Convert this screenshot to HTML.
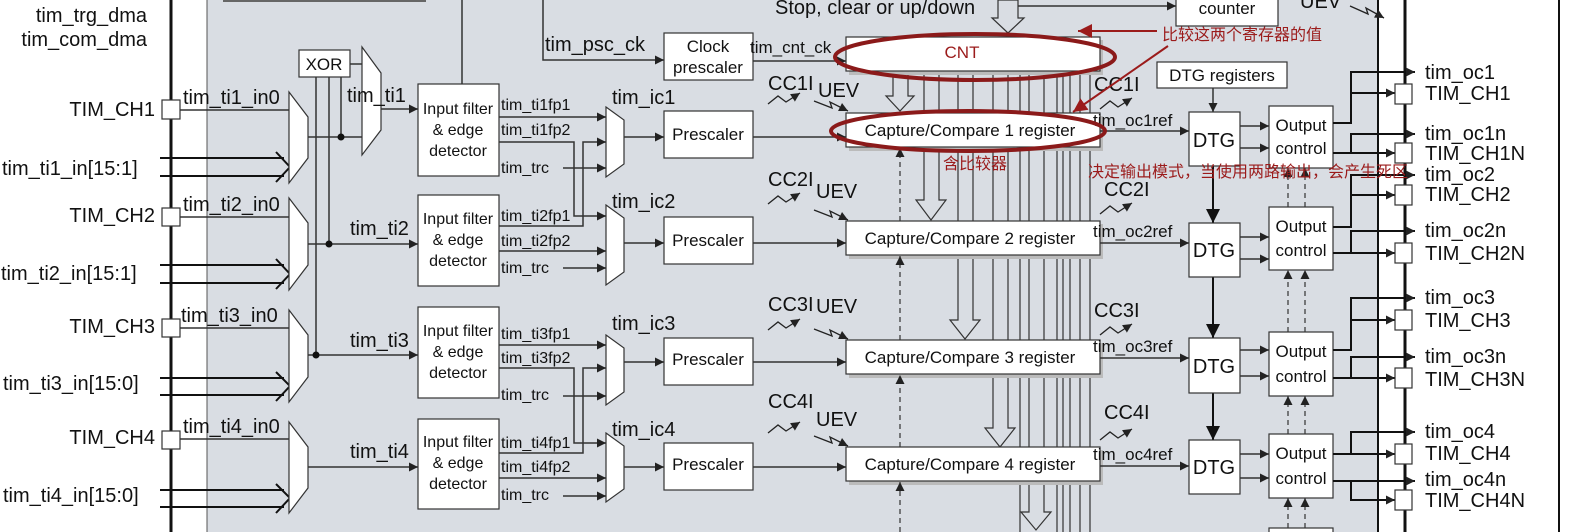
<!DOCTYPE html>
<html><head><meta charset="utf-8"><style>
html,body{margin:0;padding:0;background:#fff;}
svg{display:block;}
text{font-family:"Liberation Sans","Noto Sans CJK SC",sans-serif;fill:#111;}
.t20{font-size:20px;}
.t17{font-size:17px;}
.t16{font-size:16px;}
.red{fill:#9b1b1b;}
.zh{font-family:"Liberation Sans","Noto Sans CJK SC",sans-serif;font-size:16px;fill:#9b1b1b;}
</style></head><body>
<svg width="1583" height="532" viewBox="0 0 1583 532" xmlns="http://www.w3.org/2000/svg">
<defs>
<marker id="a" viewBox="0 0 10 10" refX="10" refY="5" markerWidth="9" markerHeight="9" markerUnits="userSpaceOnUse" orient="auto"><path d="M0,0 L10,5 L0,10 z" fill="#222"/></marker>
<marker id="ab" viewBox="0 0 10 10" refX="10" refY="5" markerWidth="14" markerHeight="14" markerUnits="userSpaceOnUse" orient="auto"><path d="M0,0 L10,5 L0,10 z" fill="#111"/></marker>
<marker id="ar" viewBox="0 0 10 10" refX="10" refY="5" markerWidth="14" markerHeight="14" markerUnits="userSpaceOnUse" orient="auto"><path d="M0,0 L10,5 L0,10 z" fill="#9b1b1b"/></marker>
</defs>
<rect x="207" y="0" width="1171" height="532" fill="#d9dde3"/>
<line x1="207" y1="0" x2="207" y2="532" stroke="#555" stroke-width="1"/>
<line x1="171" y1="0" x2="171" y2="532" stroke="#111" stroke-width="3"/>
<line x1="1378" y1="0" x2="1378" y2="532" stroke="#111" stroke-width="2"/>
<line x1="1405" y1="0" x2="1405" y2="532" stroke="#111" stroke-width="3"/>
<line x1="1559" y1="0" x2="1559" y2="532" stroke="#111" stroke-width="2"/>

<text x="147" y="22" class="t20" text-anchor="end">tim_trg_dma</text>
<text x="147" y="46" class="t20" text-anchor="end">tim_com_dma</text>

<line x1="223" y1="1" x2="426" y2="1" stroke="#666" stroke-width="2"/>
<line x1="462" y1="0" x2="462" y2="84" stroke="#333" stroke-width="1.5"/>
<polyline points="543,0 543,60 664,60" fill="none" stroke="#333" stroke-width="1.5" marker-end="url(#a)"/>
<text x="545" y="51" class="t20">tim_psc_ck</text>
<rect x="664" y="33" width="89" height="47" fill="#fff" stroke="#333" stroke-width="1.2"/>
<text x="708" y="52" class="t17" text-anchor="middle">Clock</text>
<text x="708" y="73" class="t17" text-anchor="middle">prescaler</text>
<line x1="753" y1="61" x2="846" y2="61" stroke="#333" stroke-width="1.5" marker-end="url(#a)"/>
<text x="750" y="53" class="t17">tim_cnt_ck</text>
<text x="775" y="14" class="t20">Stop, clear or up/down</text>
<polygon points="998,0 1018,0 1018,18 1024,18 1008,33 992,18 998,18" fill="#d9dde3" stroke="#333" stroke-width="1.2"/>
<line x1="1018" y1="6" x2="1176" y2="6" stroke="#333" stroke-width="1.5" marker-end="url(#a)"/>
<rect x="1176" y="-2" width="102" height="28" fill="#fff" stroke="#333" stroke-width="1.2"/>
<text x="1227" y="14" class="t17" text-anchor="middle">counter</text>
<text x="1300" y="8" class="t20">UEV</text>
<polyline points="1350,6 1368,14 1366,8 1384,18" fill="none" stroke="#222" stroke-width="1.3" marker-end="url(#a)"/>

<g stroke="#333" stroke-width="1.2">
<line x1="1020" y1="71" x2="1020" y2="532"/>
<line x1="1057" y1="71" x2="1057" y2="532"/>
<line x1="1063" y1="71" x2="1063" y2="532"/>
<line x1="1070" y1="71" x2="1070" y2="532"/>
<line x1="1080" y1="71" x2="1080" y2="532"/>
<line x1="1090" y1="71" x2="1090" y2="532"/>
</g>
<g fill="#d9dde3" stroke="#333" stroke-width="1.2">
<polygon points="893,71 908,71 908,96 914,96 900,111 886,96 893,96"/>
<polygon points="924,71 939,71 939,200 946,200 931,220 916,200 924,200"/>
<polygon points="958,71 973,71 973,320 980,320 965,339 950,320 958,320"/>
<polygon points="993,71 1008,71 1008,428 1015,428 1000,447 985,428 993,428"/>
<polygon points="1029,71 1044,71 1044,512 1051,512 1036,530 1021,512 1029,512"/>
</g>

<rect x="849" y="40" width="254" height="35" fill="#bbb"/>
<rect x="846" y="37" width="254" height="34" fill="#fff" stroke="#333" stroke-width="1.2"/>
<text x="962" y="58" class="t17 red" text-anchor="middle">CNT</text>

<g>
<rect x="849" y="116" width="254" height="35" fill="#bbb"/>
<rect x="846" y="113" width="254" height="34" fill="#fff" stroke="#333" stroke-width="1.2"/>
<text x="970" y="136" class="t17" text-anchor="middle">Capture/Compare 1 register</text>
<rect x="849" y="224" width="254" height="35" fill="#bbb"/>
<rect x="846" y="221" width="254" height="34" fill="#fff" stroke="#333" stroke-width="1.2"/>
<text x="970" y="244" class="t17" text-anchor="middle">Capture/Compare 2 register</text>
<rect x="849" y="343" width="254" height="35" fill="#bbb"/>
<rect x="846" y="340" width="254" height="34" fill="#fff" stroke="#333" stroke-width="1.2"/>
<text x="970" y="363" class="t17" text-anchor="middle">Capture/Compare 3 register</text>
<rect x="849" y="450" width="254" height="35" fill="#bbb"/>
<rect x="846" y="447" width="254" height="34" fill="#fff" stroke="#333" stroke-width="1.2"/>
<text x="970" y="470" class="t17" text-anchor="middle">Capture/Compare 4 register</text>
</g>
<g stroke="#333" stroke-width="1.2" stroke-dasharray="5,4" fill="none">
<line x1="900" y1="221" x2="900" y2="148" marker-end="url(#a)"/>
<line x1="900" y1="340" x2="900" y2="256" marker-end="url(#a)"/>
<line x1="900" y1="447" x2="900" y2="375" marker-end="url(#a)"/>
<line x1="900" y1="532" x2="900" y2="482" marker-end="url(#a)"/>
</g>

<g stroke="#333" stroke-width="1.5" fill="none">
<line x1="350" y1="64" x2="362" y2="64"/>
<line x1="316" y1="77" x2="316" y2="355"/>
<line x1="329" y1="77" x2="329" y2="244"/>
<line x1="341" y1="77" x2="341" y2="137"/>
<line x1="308" y1="137" x2="362" y2="137"/>
<line x1="381" y1="109" x2="418" y2="109" marker-end="url(#a)"/>
<line x1="308" y1="244" x2="418" y2="244" marker-end="url(#a)"/>
<line x1="308" y1="355" x2="418" y2="355" marker-end="url(#a)"/>
<line x1="308" y1="467" x2="418" y2="467" marker-end="url(#a)"/>
<line x1="180" y1="110" x2="289" y2="110"/>
<line x1="180" y1="217" x2="289" y2="217"/>
<line x1="180" y1="328" x2="289" y2="328"/>
<line x1="180" y1="439" x2="289" y2="439"/>
</g>
<g fill="#111" stroke="none">
<circle cx="341" cy="137" r="3.5"/><circle cx="329" cy="244" r="3.5"/><circle cx="316" cy="355" r="3.5"/>
</g>
<rect x="299" y="50" width="51" height="27" fill="#fff" stroke="#333" stroke-width="1.2"/>
<text x="324" y="70" class="t17" text-anchor="middle">XOR</text>
<polygon points="362,47 381,73 381,130 362,155" fill="#fff" stroke="#333" stroke-width="1.2"/>
<g stroke="#111" stroke-width="2" fill="none">
<line x1="160" y1="158" x2="284" y2="158"/><line x1="160" y1="176" x2="284" y2="176"/>
<polyline points="276,152 290,167 276,182"/>
<line x1="160" y1="265" x2="284" y2="265"/><line x1="160" y1="283" x2="284" y2="283"/>
<polyline points="276,259 290,274 276,289"/>
<line x1="160" y1="378" x2="284" y2="378"/><line x1="160" y1="395" x2="284" y2="395"/>
<polyline points="276,372 290,386 276,401"/>
<line x1="160" y1="490" x2="284" y2="490"/><line x1="160" y1="507" x2="284" y2="507"/>
<polyline points="276,484 290,498 276,513"/>
</g>
<g fill="#fff" stroke="#333" stroke-width="1.2">
<polygon points="289,92 308,117 308,158 289,183"/>
<polygon points="289,198 308,223 308,265 289,290"/>
<polygon points="289,310 308,335 308,377 289,402"/>
<polygon points="289,422 308,447 308,488 289,513"/>
<rect x="162" y="100" width="18" height="19"/>
<rect x="162" y="208" width="18" height="18"/>
<rect x="162" y="319" width="18" height="18"/>
<rect x="162" y="431" width="18" height="18"/>
</g>
<text x="155" y="116" class="t20" text-anchor="end">TIM_CH1</text>
<text x="155" y="222" class="t20" text-anchor="end">TIM_CH2</text>
<text x="155" y="333" class="t20" text-anchor="end">TIM_CH3</text>
<text x="155" y="444" class="t20" text-anchor="end">TIM_CH4</text>
<text x="183" y="104" class="t20">tim_ti1_in0</text>
<text x="183" y="211" class="t20">tim_ti2_in0</text>
<text x="181" y="322" class="t20">tim_ti3_in0</text>
<text x="183" y="433" class="t20">tim_ti4_in0</text>
<text x="2" y="175" class="t20">tim_ti1_in[15:1]</text>
<text x="1" y="280" class="t20">tim_ti2_in[15:1]</text>
<text x="3" y="390" class="t20">tim_ti3_in[15:0]</text>
<text x="3" y="502" class="t20">tim_ti4_in[15:0]</text>
<text x="347" y="102" class="t20">tim_ti1</text>
<text x="350" y="235" class="t20">tim_ti2</text>
<text x="350" y="347" class="t20">tim_ti3</text>
<text x="350" y="458" class="t20">tim_ti4</text>

<g fill="#fff" stroke="#333" stroke-width="1.2">
<rect x="418" y="84" width="81" height="92"/>
<rect x="418" y="195" width="81" height="91"/>
<rect x="418" y="307" width="81" height="91"/>
<rect x="418" y="419" width="81" height="90"/>
</g>
<g text-anchor="middle">
<text x="458" y="114" class="t16">Input filter</text><text x="458" y="135" class="t16">&amp; edge</text><text x="458" y="156" class="t16">detector</text>
<text x="458" y="224" class="t16">Input filter</text><text x="458" y="245" class="t16">&amp; edge</text><text x="458" y="266" class="t16">detector</text>
<text x="458" y="336" class="t16">Input filter</text><text x="458" y="357" class="t16">&amp; edge</text><text x="458" y="378" class="t16">detector</text>
<text x="458" y="447" class="t16">Input filter</text><text x="458" y="468" class="t16">&amp; edge</text><text x="458" y="489" class="t16">detector</text>
</g>
<g stroke="#333" stroke-width="1.5" fill="none">
<line x1="499" y1="117" x2="606" y2="117" marker-end="url(#a)"/>
<polyline points="499,142 574,142 574,216 606,216" marker-end="url(#a)"/>
<line x1="563" y1="168" x2="606" y2="168" marker-end="url(#a)"/>
<polyline points="499,226 583,226 583,142 606,142" marker-end="url(#a)"/>
<line x1="499" y1="251" x2="606" y2="251" marker-end="url(#a)"/>
<line x1="563" y1="268" x2="606" y2="268" marker-end="url(#a)"/>
<line x1="499" y1="345" x2="606" y2="345" marker-end="url(#a)"/>
<polyline points="499,368 574,368 574,443 606,443" marker-end="url(#a)"/>
<line x1="563" y1="396" x2="606" y2="396" marker-end="url(#a)"/>
<polyline points="499,453 583,453 583,368 606,368" marker-end="url(#a)"/>
<line x1="499" y1="478" x2="606" y2="478" marker-end="url(#a)"/>
<line x1="563" y1="496" x2="606" y2="496" marker-end="url(#a)"/>
</g>
<g>
<text x="501" y="110" class="t16">tim_ti1fp1</text><text x="501" y="135" class="t16">tim_ti1fp2</text><text x="501" y="173" class="t16">tim_trc</text>
<text x="501" y="221" class="t16">tim_ti2fp1</text><text x="501" y="246" class="t16">tim_ti2fp2</text><text x="501" y="273" class="t16">tim_trc</text>
<text x="501" y="339" class="t16">tim_ti3fp1</text><text x="501" y="363" class="t16">tim_ti3fp2</text><text x="501" y="400" class="t16">tim_trc</text>
<text x="501" y="448" class="t16">tim_ti4fp1</text><text x="501" y="472" class="t16">tim_ti4fp2</text><text x="501" y="500" class="t16">tim_trc</text>
</g>
<g fill="#fff" stroke="#333" stroke-width="1.2">
<polygon points="606,107 624,120 624,164 606,177"/>
<polygon points="606,205 624,218 624,272 606,285"/>
<polygon points="606,335 624,348 624,392 606,405"/>
<polygon points="606,433 624,446 624,489 606,502"/>
</g>
<text x="612" y="104" class="t20">tim_ic1</text>
<text x="612" y="208" class="t20">tim_ic2</text>
<text x="612" y="330" class="t20">tim_ic3</text>
<text x="612" y="436" class="t20">tim_ic4</text>
<g stroke="#333" stroke-width="1.5" fill="none">
<line x1="624" y1="137" x2="664" y2="137" marker-end="url(#a)"/>
<line x1="624" y1="243" x2="664" y2="243" marker-end="url(#a)"/>
<line x1="624" y1="362" x2="664" y2="362" marker-end="url(#a)"/>
<line x1="624" y1="467" x2="664" y2="467" marker-end="url(#a)"/>
<line x1="753" y1="137" x2="846" y2="137" marker-end="url(#a)"/>
<line x1="753" y1="243" x2="846" y2="243" marker-end="url(#a)"/>
<line x1="753" y1="362" x2="846" y2="362" marker-end="url(#a)"/>
<line x1="753" y1="467" x2="846" y2="467" marker-end="url(#a)"/>
</g>
<g fill="#fff" stroke="#333" stroke-width="1.2">
<rect x="664" y="111" width="89" height="47"/>
<rect x="664" y="217" width="89" height="47"/>
<rect x="664" y="338" width="89" height="47"/>
<rect x="664" y="443" width="89" height="47"/>
</g>
<text x="708" y="140" class="t17" text-anchor="middle">Prescaler</text>
<text x="708" y="246" class="t17" text-anchor="middle">Prescaler</text>
<text x="708" y="365" class="t17" text-anchor="middle">Prescaler</text>
<text x="708" y="470" class="t17" text-anchor="middle">Prescaler</text>

<g stroke="#222" stroke-width="1.3" fill="none">
<polyline points="768,104 778,96 786,102 800,93" marker-end="url(#a)"/>
<polyline points="814,101 832,108 830,102 848,111" marker-end="url(#a)"/>
<polyline points="768,204 778,196 786,202 800,193" marker-end="url(#a)"/>
<polyline points="814,210 832,217 830,211 848,220" marker-end="url(#a)"/>
<polyline points="768,330 778,322 786,328 800,319" marker-end="url(#a)"/>
<polyline points="814,329 832,336 830,330 848,339" marker-end="url(#a)"/>
<polyline points="768,433 778,425 786,431 800,422" marker-end="url(#a)"/>
<polyline points="814,436 832,443 830,437 848,446" marker-end="url(#a)"/>
</g>
<text x="768" y="90" class="t20">CC1I</text><text x="818" y="97" class="t20">UEV</text>
<text x="768" y="186" class="t20">CC2I</text><text x="816" y="198" class="t20">UEV</text>
<text x="768" y="311" class="t20">CC3I</text><text x="816" y="313" class="t20">UEV</text>
<text x="768" y="408" class="t20">CC4I</text><text x="816" y="426" class="t20">UEV</text>

<g stroke="#222" stroke-width="1.3" fill="none">
<polyline points="1100,109 1110,101 1118,107 1132,98" marker-end="url(#a)"/>
<polyline points="1100,214 1110,206 1118,212 1132,203" marker-end="url(#a)"/>
<polyline points="1100,335 1110,327 1118,333 1132,324" marker-end="url(#a)"/>
<polyline points="1100,440 1110,432 1118,438 1132,429" marker-end="url(#a)"/>
</g>
<text x="1094" y="91" class="t20">CC1I</text>
<text x="1104" y="196" class="t20">CC2I</text>
<text x="1094" y="317" class="t20">CC3I</text>
<text x="1104" y="419" class="t20">CC4I</text>
<g stroke="#333" stroke-width="1.5" fill="none">
<line x1="1100" y1="131" x2="1189" y2="131" marker-end="url(#a)"/>
<line x1="1100" y1="243" x2="1189" y2="243" marker-end="url(#a)"/>
<line x1="1100" y1="358" x2="1189" y2="358" marker-end="url(#a)"/>
<line x1="1100" y1="466" x2="1189" y2="466" marker-end="url(#a)"/>
<line x1="1213" y1="88" x2="1213" y2="112" marker-end="url(#a)"/>
</g>
<text x="1093" y="126" class="t17">tim_oc1ref</text>
<text x="1093" y="237" class="t17">tim_oc2ref</text>
<text x="1093" y="352" class="t17">tim_oc3ref</text>
<text x="1093" y="460" class="t17">tim_oc4ref</text>
<rect x="1157" y="62" width="130" height="26" fill="#fff" stroke="#333" stroke-width="1.2"/>
<text x="1222" y="81" class="t17" text-anchor="middle">DTG registers</text>
<g stroke="#111" stroke-width="2" fill="none">
<line x1="1213" y1="166" x2="1213" y2="223" marker-end="url(#ab)"/>
<line x1="1213" y1="277" x2="1213" y2="338" marker-end="url(#ab)"/>
<line x1="1213" y1="393" x2="1213" y2="440" marker-end="url(#ab)"/>
</g>
<g fill="#fff" stroke="#333" stroke-width="1.2">
<rect x="1189" y="112" width="51" height="54"/>
<rect x="1189" y="223" width="51" height="54"/>
<rect x="1189" y="338" width="51" height="55"/>
<rect x="1189" y="440" width="51" height="54"/>
<rect x="1269" y="106" width="64" height="62"/>
<rect x="1269" y="207" width="64" height="63"/>
<rect x="1269" y="332" width="64" height="64"/>
<rect x="1269" y="434" width="64" height="64"/>
<rect x="1269" y="528" width="64" height="10"/>
</g>
<text x="1214" y="147" class="t20" text-anchor="middle">DTG</text>
<text x="1214" y="257" class="t20" text-anchor="middle">DTG</text>
<text x="1214" y="373" class="t20" text-anchor="middle">DTG</text>
<text x="1214" y="474" class="t20" text-anchor="middle">DTG</text>
<g>
<text x="1301" y="131" class="t17" text-anchor="middle">Output</text><text x="1301" y="154" class="t17" text-anchor="middle">control</text>
<text x="1301" y="232" class="t17" text-anchor="middle">Output</text><text x="1301" y="256" class="t17" text-anchor="middle">control</text>
<text x="1301" y="357" class="t17" text-anchor="middle">Output</text><text x="1301" y="382" class="t17" text-anchor="middle">control</text>
<text x="1301" y="459" class="t17" text-anchor="middle">Output</text><text x="1301" y="484" class="t17" text-anchor="middle">control</text>
</g>
<g stroke="#333" stroke-width="1.5" fill="none">
<line x1="1240" y1="126" x2="1269" y2="126" marker-end="url(#a)"/>
<line x1="1240" y1="148" x2="1269" y2="148" marker-end="url(#a)"/>
<line x1="1240" y1="237" x2="1269" y2="237" marker-end="url(#a)"/>
<line x1="1240" y1="259" x2="1269" y2="259" marker-end="url(#a)"/>
<line x1="1240" y1="350" x2="1269" y2="350" marker-end="url(#a)"/>
<line x1="1240" y1="376" x2="1269" y2="376" marker-end="url(#a)"/>
<line x1="1240" y1="454" x2="1269" y2="454" marker-end="url(#a)"/>
<line x1="1240" y1="478" x2="1269" y2="478" marker-end="url(#a)"/>
</g>
<g stroke="#333" stroke-width="1.2" stroke-dasharray="5,4" fill="none">
<line x1="1288" y1="207" x2="1288" y2="168" marker-end="url(#a)"/>
<line x1="1305" y1="207" x2="1305" y2="168" marker-end="url(#a)"/>
<line x1="1288" y1="332" x2="1288" y2="270" marker-end="url(#a)"/>
<line x1="1305" y1="332" x2="1305" y2="270" marker-end="url(#a)"/>
<line x1="1288" y1="434" x2="1288" y2="396" marker-end="url(#a)"/>
<line x1="1305" y1="434" x2="1305" y2="396" marker-end="url(#a)"/>
<line x1="1288" y1="528" x2="1288" y2="498" marker-end="url(#a)"/>
<line x1="1305" y1="528" x2="1305" y2="498" marker-end="url(#a)"/>
</g>
<g stroke="#111" stroke-width="2" fill="none">
<polyline points="1333,123 1351,123 1351,72 1415,72" marker-end="url(#a)"/>
<line x1="1351" y1="93" x2="1395" y2="93" marker-end="url(#a)"/>
<polyline points="1333,153 1351,153 1351,134 1415,134" marker-end="url(#a)"/>
<line x1="1351" y1="153" x2="1395" y2="153" marker-end="url(#a)"/>
<polyline points="1333,227 1351,227 1351,175 1415,175" marker-end="url(#a)"/>
<line x1="1351" y1="195" x2="1395" y2="195" marker-end="url(#a)"/>
<polyline points="1333,253 1351,253 1351,231 1415,231" marker-end="url(#a)"/>
<line x1="1351" y1="253" x2="1395" y2="253" marker-end="url(#a)"/>
<polyline points="1333,350 1351,350 1351,298 1415,298" marker-end="url(#a)"/>
<line x1="1351" y1="320" x2="1395" y2="320" marker-end="url(#a)"/>
<polyline points="1333,378 1351,378 1351,357 1415,357" marker-end="url(#a)"/>
<line x1="1351" y1="378" x2="1395" y2="378" marker-end="url(#a)"/>
<polyline points="1333,454 1351,454 1351,432 1415,432" marker-end="url(#a)"/>
<line x1="1351" y1="454" x2="1395" y2="454" marker-end="url(#a)"/>
<polyline points="1333,481 1351,481 1351,500 1395,500" marker-end="url(#a)"/>
<polyline points="1351,481 1415,481" marker-end="url(#a)"/>
</g>
<g fill="#fff" stroke="#333" stroke-width="1.2">
<rect x="1395" y="84" width="17" height="20"/>
<rect x="1395" y="143" width="17" height="20"/>
<rect x="1395" y="185" width="17" height="20"/>
<rect x="1395" y="243" width="17" height="20"/>
<rect x="1395" y="310" width="17" height="20"/>
<rect x="1395" y="368" width="17" height="20"/>
<rect x="1395" y="444" width="17" height="20"/>
<rect x="1395" y="490" width="17" height="20"/>
</g>
<g>
<text x="1425" y="79" class="t20">tim_oc1</text><text x="1425" y="100" class="t20">TIM_CH1</text>
<text x="1425" y="140" class="t20">tim_oc1n</text><text x="1425" y="160" class="t20">TIM_CH1N</text>
<text x="1425" y="181" class="t20">tim_oc2</text><text x="1425" y="201" class="t20">TIM_CH2</text>
<text x="1425" y="237" class="t20">tim_oc2n</text><text x="1425" y="260" class="t20">TIM_CH2N</text>
<text x="1425" y="304" class="t20">tim_oc3</text><text x="1425" y="327" class="t20">TIM_CH3</text>
<text x="1425" y="363" class="t20">tim_oc3n</text><text x="1425" y="386" class="t20">TIM_CH3N</text>
<text x="1425" y="438" class="t20">tim_oc4</text><text x="1425" y="460" class="t20">TIM_CH4</text>
<text x="1425" y="486" class="t20">tim_oc4n</text><text x="1425" y="507" class="t20">TIM_CH4N</text>
</g>

<g stroke="#8b1a1a" stroke-width="4" fill="none">
<ellipse cx="975" cy="57" rx="140" ry="23"/>
<ellipse cx="968" cy="131" rx="137" ry="20"/>
</g>
<g stroke="#9b1b1b" stroke-width="2" fill="none">
<line x1="1157" y1="31" x2="1078" y2="31" marker-end="url(#ar)"/>
<line x1="1168" y1="46" x2="1073" y2="112" marker-end="url(#ar)"/>
</g>
<text x="1162" y="40" class="zh">比较这两个寄存器的值</text>
<text x="943" y="169" class="zh">含比较器</text>
<text x="1088" y="177" class="zh">决定输出模式，当使用两路输出，会产生死区</text>
</svg>
</body></html>
